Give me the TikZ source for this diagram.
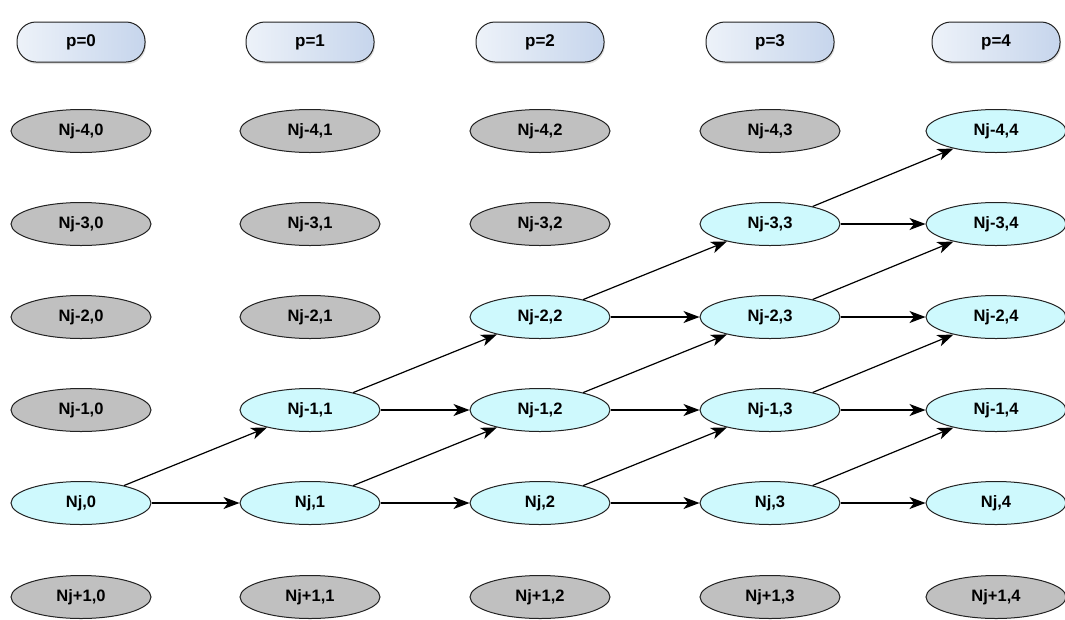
\documentclass[tikz,border=0pt]{standalone}
\usepackage{fontspec}
\setmainfont{Liberation Sans}
\usetikzlibrary{shapes.geometric,arrows.meta,shadows}
\definecolor{grayfill}{HTML}{C0C0C0}
\definecolor{cyanfill}{HTML}{CEF9FD}
\definecolor{hdrL}{HTML}{EDF2F9}
\definecolor{hdrR}{HTML}{C6D5EC}
\definecolor{edgec}{HTML}{222222}
\tikzset{
  hdr/.style={rounded corners=19pt, draw=edgec, line width=1pt, minimum width=128pt, minimum height=40pt,
    left color=hdrL, right color=hdrR, font=\bfseries\fontsize{17}{19}\selectfont, inner sep=0pt,
    drop shadow={opacity=0.25, shadow xshift=1pt, shadow yshift=-2pt}},
  nd/.style={ellipse, draw=edgec, line width=1pt, minimum width=140pt, minimum height=43pt, inner sep=0pt,
    font=\bfseries\fontsize{16.5}{18}\selectfont},
  off/.style={nd, fill=grayfill},
  on/.style={nd, fill=cyanfill},
  arr/.style={draw=black, line width=1.2pt, -{Stealth[length=16pt,width=12pt,inset=4.5pt]}}
}
\begin{document}
\begin{tikzpicture}[x=1pt,y=-1pt]
\useasboundingbox (0,0) rectangle (1065,619);
% column x positions
\def\cA{81}\def\cB{310}\def\cC{540}\def\cD{770}\def\cE{996}
% headers
\node[hdr] (h0) at (\cA,42) {p=0};
\node[hdr] (h1) at (\cB,42) {p=1};
\node[hdr] (h2) at (\cC,42) {p=2};
\node[hdr] (h3) at (\cD,42) {p=3};
\node[hdr] (h4) at (\cE,42) {p=4};
% row -4
\node[off] (m4c0) at (\cA,131) {Nj-4,0};
\node[off] (m4c1) at (\cB,131) {Nj-4,1};
\node[off] (m4c2) at (\cC,131) {Nj-4,2};
\node[off] (m4c3) at (\cD,131) {Nj-4,3};
\node[on]  (m4c4) at (\cE,131) {Nj-4,4};
% row -3
\node[off] (m3c0) at (\cA,224) {Nj-3,0};
\node[off] (m3c1) at (\cB,224) {Nj-3,1};
\node[off] (m3c2) at (\cC,224) {Nj-3,2};
\node[on]  (m3c3) at (\cD,224) {Nj-3,3};
\node[on]  (m3c4) at (\cE,224) {Nj-3,4};
% row -2
\node[off] (m2c0) at (\cA,317) {Nj-2,0};
\node[off] (m2c1) at (\cB,317) {Nj-2,1};
\node[on]  (m2c2) at (\cC,317) {Nj-2,2};
\node[on]  (m2c3) at (\cD,317) {Nj-2,3};
\node[on]  (m2c4) at (\cE,317) {Nj-2,4};
% row -1
\node[off] (m1c0) at (\cA,410) {Nj-1,0};
\node[on]  (m1c1) at (\cB,410) {Nj-1,1};
\node[on]  (m1c2) at (\cC,410) {Nj-1,2};
\node[on]  (m1c3) at (\cD,410) {Nj-1,3};
\node[on]  (m1c4) at (\cE,410) {Nj-1,4};
% row 0
\node[on] (z0) at (\cA,503) {Nj,0};
\node[on] (z1) at (\cB,503) {Nj,1};
\node[on] (z2) at (\cC,503) {Nj,2};
\node[on] (z3) at (\cD,503) {Nj,3};
\node[on] (z4) at (\cE,503) {Nj,4};
% row +1
\node[off] (p1c0) at (\cA,597) {Nj+1,0};
\node[off] (p1c1) at (\cB,597) {Nj+1,1};
\node[off] (p1c2) at (\cC,597) {Nj+1,2};
\node[off] (p1c3) at (\cD,597) {Nj+1,3};
\node[off] (p1c4) at (\cE,597) {Nj+1,4};
% horizontal arrows
\draw[arr] (z0) -- (z1);
\draw[arr] (z1) -- (z2);
\draw[arr] (z2) -- (z3);
\draw[arr] (z3) -- (z4);
\draw[arr] (m1c1) -- (m1c2);
\draw[arr] (m1c2) -- (m1c3);
\draw[arr] (m1c3) -- (m1c4);
\draw[arr] (m2c2) -- (m2c3);
\draw[arr] (m2c3) -- (m2c4);
\draw[arr] (m3c3) -- (m3c4);
% diagonal arrows
\draw[arr] (z0) -- (m1c1);
\draw[arr] (z1) -- (m1c2);
\draw[arr] (z2) -- (m1c3);
\draw[arr] (z3) -- (m1c4);
\draw[arr] (m1c1) -- (m2c2);
\draw[arr] (m1c2) -- (m2c3);
\draw[arr] (m1c3) -- (m2c4);
\draw[arr] (m2c2) -- (m3c3);
\draw[arr] (m2c3) -- (m3c4);
\draw[arr] (m3c3) -- (m4c4);
\end{tikzpicture}
\end{document}
